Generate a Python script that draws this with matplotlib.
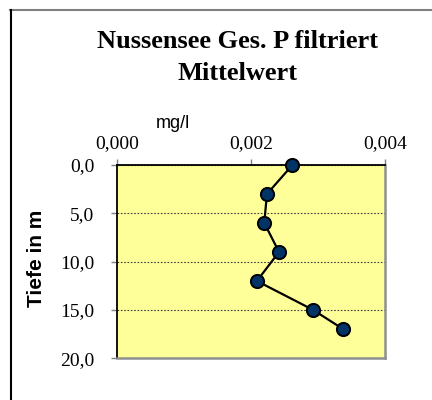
import matplotlib
matplotlib.use('Agg')
import matplotlib.pyplot as plt
from matplotlib.ticker import FuncFormatter, FixedLocator
from matplotlib.lines import Line2D

# Nussensee Ges. P filtriert - Mittelwert
tiefe = [0, 3, 6, 9, 12, 15, 17]
werte = [0.00262, 0.00224, 0.00220, 0.00242, 0.00209, 0.00293, 0.00338]
x_ticks = [0.0, 0.002, 0.004]
y_ticks = [0, 5, 10, 15, 20]

fig = plt.figure(figsize=(4.32, 4.00), dpi=100)
fig.patch.set_facecolor('white')

# chart frame (only top and left visible in crop)
fig.add_artist(Line2D([10/432, 1], [1-10/400, 1-10/400], color='#808080', lw=1.5))
fig.add_artist(Line2D([11/432, 11/432], [0, 1-10/400], color='black', lw=1.5))

ax = fig.add_axes([116.7/432, 1-358.3/400, 268.3/432, 193.3/400])
ax.set_facecolor('#FFFF99')

ax.plot(werte, tiefe, '-', color='black', lw=1.6, marker='o', ms=9.5,
        mfc='#003366', mec='black', mew=1.4, zorder=3, clip_on=False)

ax.set_xlim(0, 0.004)
ax.set_ylim(20, 0)
ax.xaxis.set_major_locator(FixedLocator(x_ticks))
ax.yaxis.set_major_locator(FixedLocator(y_ticks))
ax.xaxis.set_major_formatter(FuncFormatter(lambda v, p: f'{v:.3f}'.replace('.', ',')))
ax.yaxis.set_major_formatter(FuncFormatter(lambda v, p: f'{v:.1f}'.replace('.', ',')))

ax.xaxis.tick_top()
ax.tick_params(axis='x', direction='out', length=4, width=1, color='#808080', pad=5)
ax.tick_params(axis='y', direction='out', length=4, width=1, color='#808080', pad=12)
for lab in ax.get_xticklabels() + ax.get_yticklabels():
    lab.set_fontfamily('Liberation Serif')
    lab.set_fontsize(14)

ax.grid(True, axis='y', linestyle=(0, (1.5, 1.5)), color='#404040', lw=0.8)
ax.grid(False, axis='x')

ax.spines['top'].set_color('black')
ax.spines['left'].set_color('black')
ax.spines['top'].set_linewidth(1.3)
ax.spines['left'].set_linewidth(1.3)
ax.spines['right'].set_color('#909090')
ax.spines['bottom'].set_color('#909090')
ax.spines['right'].set_linewidth(1.8)
ax.spines['bottom'].set_linewidth(1.8)

ax.xaxis.set_label_position('top')
ax.set_xlabel('mg/l', fontfamily='Liberation Sans', fontsize=13, va='center')
ax.xaxis.set_label_coords((173-116.7)/268.3, (358.3-123)/193.3)
ax.set_ylabel('Tiefe in m', fontfamily='Liberation Sans', fontsize=15,
              fontweight='bold', va='center')
ax.yaxis.set_label_coords((37-116.7)/268.3, (358.3-258)/193.3)

title_font = dict(ha='center', va='baseline', fontfamily='Liberation Serif',
                  fontsize=19, fontweight='bold')
fig.text(237/432, 1-48/400, 'Nussensee Ges. P filtriert', **title_font)
fig.text(237/432, 1-79.5/400, 'Mittelwert', **title_font)

fig.savefig('out.png', dpi=100)
